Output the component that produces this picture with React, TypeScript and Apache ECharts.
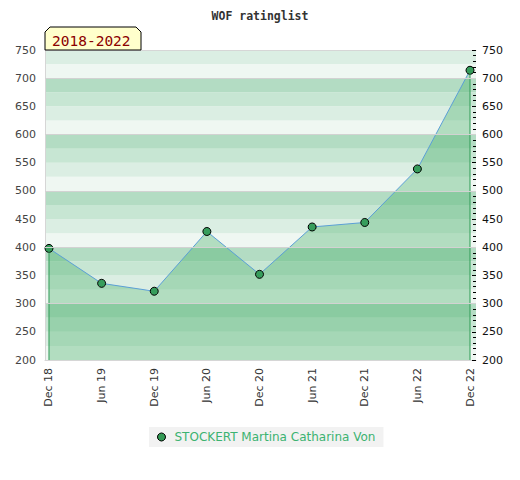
import React, { useEffect, useRef } from "react";
import * as echarts from "echarts";

const categories = ["Dec 18", "Jun 19", "Dec 19", "Jun 20", "Dec 20", "Jun 21", "Dec 21", "Jun 22", "Dec 22"];
const ratings = [398, 336, 322, 428, 352, 436, 444, 539, 714];
const gridValues = [300, 400, 500, 600, 700];
const seriesName = "STOCKERT Martina Catharina Von";
const titleText = "WOF ratinglist";
const badgeText = "2018-2022";
const yMin = 200;
const yMax = 750;
const bandColors = ["#eff7f2", "#dbeee3", "#c7e6d3", "#b3dcc3"];

export default function App() {
  const ref = useRef<HTMLDivElement>(null);
  useEffect(() => {
    document.body.style.margin = "0";
    if (!ref.current) return;
    const chart = echarts.init(ref.current, undefined, { renderer: "svg" });
    const data = ratings.map((v, i) => [i, v]);
    const last = ratings.length - 1;
    const gridLeft = 45;
    const gridRight = 476;
    const gridTop = 50;
    const xMin = -0.076;
    const xMax = 8.114;
    const edgeSeries = [0, last].map((i) => ({
      type: "line",
      data: [[i, ratings[i]], [i, yMin]],
      xAxisIndex: 0,
      yAxisIndex: 0,
      symbol: "none",
      silent: true,
      clip: false,
      lineStyle: { color: "#2e9a55", width: 1 },
      z: 4,
    }));
    chart.setOption({
      animation: false,
      title: {
        text: titleText,
        left: "center",
        top: 5,
        textStyle: { fontFamily: "DejaVu Sans Mono", fontSize: 11.5, fontWeight: "bold", color: "#333" },
      },
      grid: { left: gridLeft, right: 520 - gridRight, top: gridTop, bottom: 120 },
      legend: {
        left: 149,
        top: 427,
        padding: [4, 8, 4, 8],
        backgroundColor: "#f2f2f2",
        icon: "circle",
        itemWidth: 8,
        itemHeight: 8,
        itemStyle: { color: "#339955", borderColor: "#000", borderWidth: 1 },
        textStyle: { color: "#3cb371", fontFamily: "DejaVu Sans", fontSize: 12, padding: [0, 0, 0, 4] },
        data: [seriesName],
      },
      xAxis: [
        {
          type: "value",
          min: xMin,
          max: xMax,
          axisLine: { show: true, onZero: false, lineStyle: { color: "#d6d6d6" } },
          axisTick: { show: false },
          splitLine: { show: false },
          axisLabel: {
            customValues: categories.map((_, i) => i),
            formatter: (v: number) => categories[Math.round(v)] ?? "",
            rotate: 90,
            margin: 8,
            color: "#333",
            fontFamily: "DejaVu Sans",
            fontSize: 11,
          },
        },
        {
          type: "value",
          position: "top",
          min: xMin,
          max: xMax,
          axisLine: { show: true, onZero: false, lineStyle: { color: "#d6d6d6" } },
          axisTick: { show: false },
          axisLabel: { show: false },
          splitLine: { show: false },
        },
      ],
      yAxis: [
        {
          type: "value",
          position: "left",
          min: yMin,
          max: yMax,
          interval: 25,
          axisLine: { show: true, onZero: false, lineStyle: { color: "#d6d6d6" } },
          axisTick: { show: false },
          splitLine: { show: false },
          splitArea: { show: true, areaStyle: { color: bandColors } },
          axisLabel: {
            color: "#444",
            fontFamily: "DejaVu Sans",
            fontSize: 11,
            margin: 9,
            formatter: (v: number) => (v % 50 === 0 ? String(v) : ""),
          },
        },
        {
          type: "value",
          position: "right",
          min: yMin,
          max: yMax,
          interval: 50,
          axisLine: { show: false, onZero: false },
          axisTick: { show: true, inside: true, length: 4, lineStyle: { color: "#000" } },
          minorTick: { show: true, splitNumber: 5, length: 3, lineStyle: { color: "#000" } },
          splitLine: { show: false },
          axisLabel: { color: "#111", fontFamily: "DejaVu Sans", fontSize: 11, margin: 6 },
        },
      ],
      series: [
        {
          type: "line",
          data: [],
          xAxisIndex: 0,
          yAxisIndex: 0,
          silent: true,
          z: 1,
          markLine: {
            silent: true,
            symbol: "none",
            label: { show: false },
            lineStyle: { color: "#d2d2d2", width: 1, type: "solid" },
            data: gridValues.map((v) => ({ yAxis: v })),
          },
        },
        {
          name: seriesName,
          type: "line",
          data,
          xAxisIndex: 0,
          yAxisIndex: 0,
          symbol: "circle",
          symbolSize: 8,
          itemStyle: { color: "#379d5c", borderColor: "#000", borderWidth: 1 },
          lineStyle: { color: "#5b9fd6", width: 1 },
          areaStyle: { color: "rgba(58,168,95,0.48)", origin: "start" },
          z: 3,
        },
        ...edgeSeries,
      ],
      graphic: [
        {
          type: "polygon",
          shape: { points: [[45, 50], [45, 32], [50, 27], [136, 27], [141, 32], [141, 50]] },
          style: { fill: "#ffffcc", stroke: "#000", lineWidth: 1 },
          z: 10,
        },
        {
          type: "text",
          x: 52,
          y: 41,
          style: {
            text: badgeText,
            fill: "#8b0000",
            font: "14.5px 'DejaVu Sans Mono'",
            verticalAlign: "middle",
            align: "left",
          },
          z: 11,
        },
      ],
    });
    return () => chart.dispose();
  }, []);
  return <div ref={ref} style={{ width: 520, height: 480 }} />;
}
